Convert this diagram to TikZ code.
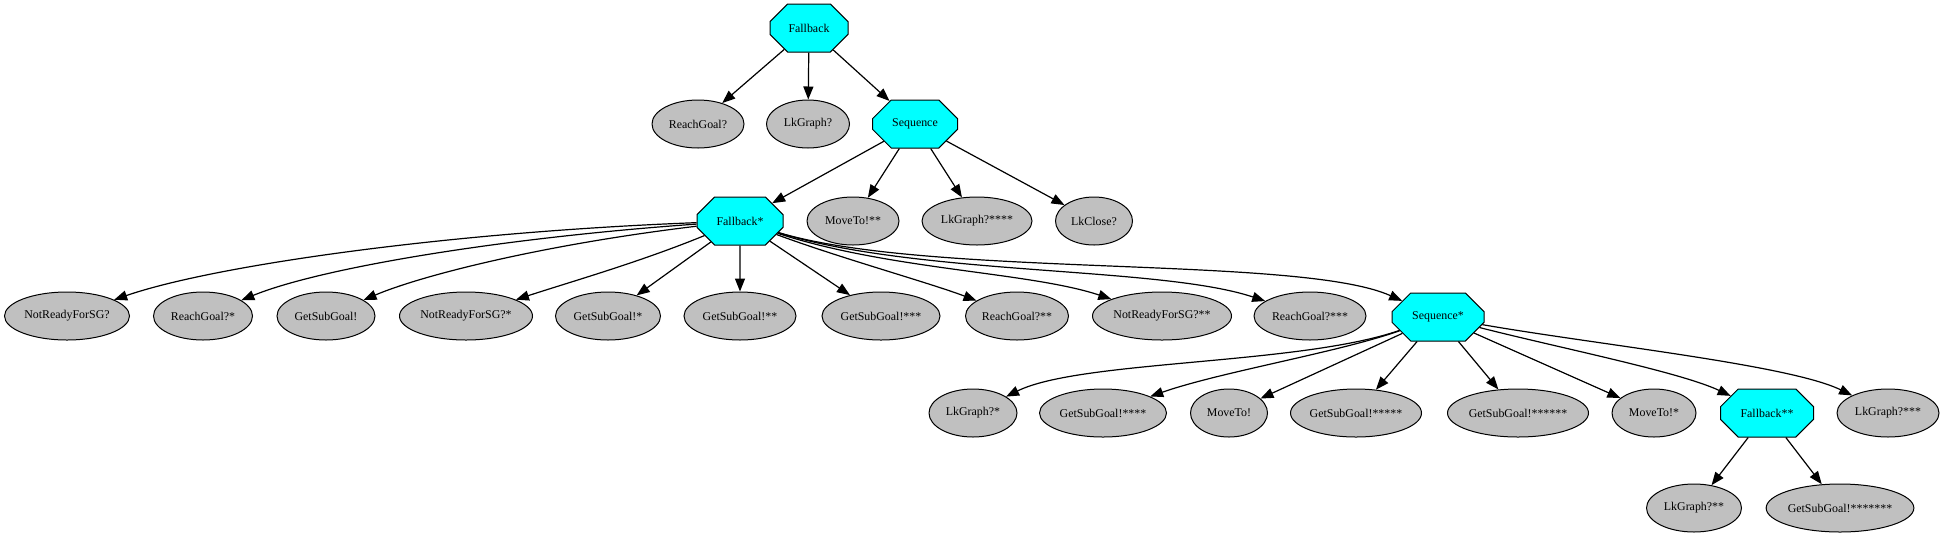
\documentclass[tikz,border=0pt]{standalone}
\usepackage{fontspec}
\setmainfont{Liberation Serif}
\usetikzlibrary{shapes.geometric,shapes.misc,arrows.meta}
\definecolor{gvgray}{RGB}{192,192,192}
\definecolor{gvcyan}{RGB}{0,255,255}
\begin{document}
\begin{tikzpicture}[x=1pt,y=-1pt,
  leaf/.style={ellipse, draw, fill=gvgray, line width=1pt, minimum height=48pt,
    minimum width=#1pt, inner sep=0pt, font=\fontsize{11.9}{13}\selectfont},
  ctl/.style 2 args={chamfered rectangle, draw, fill=gvcyan, line width=1pt,
    minimum height=48pt, minimum width=#1pt, inner sep=0pt,
    chamfered rectangle xsep=#2pt, chamfered rectangle ysep=13.5pt,
    font=\fontsize{11.9}{13}\selectfont},
  e/.style={line width=1.2pt, -{Triangle[length=13pt,width=10pt]}}]
\useasboundingbox (0,0) rectangle (1945,539);
% level 0-2
\node[ctl={78}{20}] (f0) at (809,28) {Fallback};
\node[leaf=92] (rg) at (698,124) {ReachGoal?};
\node[leaf=83] (lk) at (808,124) {LkGraph?};
\node[ctl={85}{23.5}] (s0) at (915,124) {Sequence};
\node[ctl={86}{24}] (f1) at (740,221) {Fallback*};
\node[leaf=92] (mv2) at (853,221) {MoveTo!**};
\node[leaf=110] (lk4) at (977,221) {LkGraph?****};
\node[leaf=77] (lc) at (1094,221) {LkClose?};
% level 3
\node[leaf=125] (n1) at (67,316) {NotReadyForSG?};
\node[leaf=99] (r1) at (203,316) {ReachGoal?*};
\node[leaf=98] (g1) at (326,316) {GetSubGoal!};
\node[leaf=133] (n2) at (466,316) {NotReadyForSG?*};
\node[leaf=105] (g2) at (608,316) {GetSubGoal!*};
\node[leaf=112] (g3) at (740,316) {GetSubGoal!**};
\node[leaf=118] (g4) at (881,316) {GetSubGoal!***};
\node[leaf=103] (r2) at (1017,316) {ReachGoal?**};
\node[leaf=139] (n3) at (1162,316) {NotReadyForSG?**};
\node[leaf=112] (r3) at (1310,316) {ReachGoal?***};
\node[ctl={92}{27}] (s1) at (1438,317) {Sequence*};
% level 4
\node[leaf=88] (l1) at (973,413) {LkGraph?*};
\node[leaf=127] (g5) at (1103,413) {GetSubGoal!****};
\node[leaf=77] (m1) at (1229,413) {MoveTo!};
\node[leaf=131] (g6) at (1356,413) {GetSubGoal!*****};
\node[leaf=141] (g7) at (1518,413) {GetSubGoal!******};
\node[leaf=84] (m2) at (1654,413) {MoveTo!*};
\node[ctl={93}{27.5}] (f2) at (1767,413) {Fallback**};
\node[leaf=102] (l3) at (1888,413) {LkGraph?***};
% level 5
\node[leaf=95] (l2) at (1694,508) {LkGraph?**};
\node[leaf=146] (g8) at (1840,508) {GetSubGoal!*******};
% edges
\draw[e] (f0) -- (rg);
\draw[e] (f0) -- (lk);
\draw[e] (f0) -- (s0);
\draw[e] (s0) -- (f1);
\draw[e] (s0) -- (mv2);
\draw[e] (s0) -- (lk4);
\draw[e] (s0) -- (lc);
\draw[e] (f1) .. controls (450,232) and (215,265) .. (n1);
\draw[e] (f1) .. controls (500,238) and (320,268) .. (r1);
\draw[e] (f1) .. controls (540,245) and (420,276) .. (g1);
\draw[e] (f1) .. controls (640,262) and (570,282) .. (n2);
\draw[e] (f1) -- (g2);
\draw[e] (f1) -- (g3);
\draw[e] (f1) -- (g4);
\draw[e] (f1) .. controls (840,258) and (930,283) .. (r2);
\draw[e] (f1) .. controls (890,270) and (1030,272) .. (n3);
\draw[e] (f1) .. controls (920,276) and (1160,266) .. (r3);
\draw[e] (f1) .. controls (930,278) and (1300,255) .. (s1);
\draw[e] (s1) .. controls (1300,365) and (1080,360) .. (l1);
\draw[e] (s1) .. controls (1340,352) and (1220,372) .. (g5);
\draw[e] (s1) -- (m1);
\draw[e] (s1) -- (g6);
\draw[e] (s1) -- (g7);
\draw[e] (s1) -- (m2);
\draw[e] (s1) .. controls (1560,348) and (1680,372) .. (f2);
\draw[e] (s1) .. controls (1600,345) and (1790,365) .. (l3);
\draw[e] (f2) -- (l2);
\draw[e] (f2) -- (g8);
\end{tikzpicture}
\end{document}
